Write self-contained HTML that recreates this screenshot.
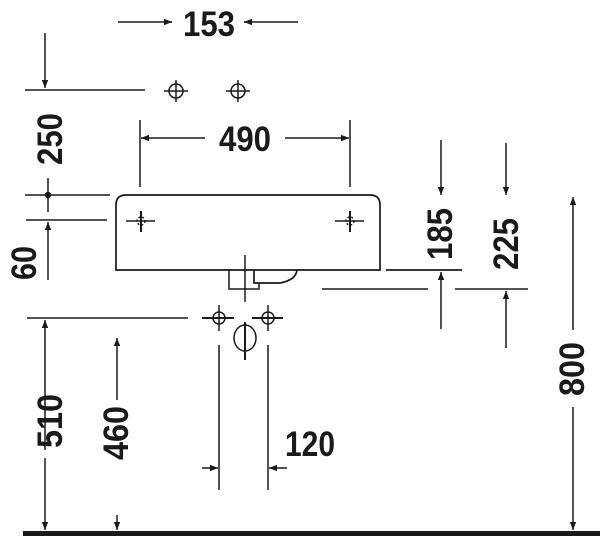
<!DOCTYPE html>
<html><head><style>body{margin:0;background:#fff}svg{display:block}text{font-family:"Liberation Sans",sans-serif;font-weight:bold;font-size:35px;fill:#1a1a1a}</style></head>
<body>
<svg width="600" height="539" viewBox="0 0 600 539" xmlns="http://www.w3.org/2000/svg" stroke="#1a1a1a" fill="none" stroke-width="1.5">
<defs>
<marker id="a" viewBox="0 0 10 10" refX="10" refY="5" markerWidth="14" markerHeight="8" orient="auto" markerUnits="userSpaceOnUse"><path d="M0,1 L10,5 L0,9 Z" fill="#1a1a1a" stroke="none"/></marker>
</defs>
<!-- 153 -->
<line x1="118" y1="22" x2="172" y2="22" marker-end="url(#a)"/>
<line x1="298" y1="22" x2="244" y2="22" marker-end="url(#a)"/>
<text x="183" y="36" textLength="52" lengthAdjust="spacingAndGlyphs" stroke="none">153</text>
<!-- 250 -->
<line x1="45" y1="33" x2="45" y2="88" marker-end="url(#a)"/>
<line x1="25" y1="90" x2="145" y2="90"/>
<text transform="translate(62,165) rotate(-90)" textLength="52" lengthAdjust="spacingAndGlyphs" stroke="none">250</text>
<circle cx="176" cy="91" r="7"/><line x1="164" y1="91" x2="188" y2="91"/><line x1="176" y1="80" x2="176" y2="102"/>
<circle cx="238" cy="91" r="7"/><line x1="226" y1="91" x2="250" y2="91"/><line x1="238" y1="80" x2="238" y2="102"/>
<!-- 490 -->
<line x1="140" y1="120" x2="140" y2="187"/><line x1="350" y1="120" x2="350" y2="187"/>
<line x1="205" y1="138" x2="141" y2="138" marker-end="url(#a)"/>
<line x1="285" y1="138" x2="349" y2="138" marker-end="url(#a)"/>
<text x="219" y="151" textLength="52" lengthAdjust="spacingAndGlyphs" stroke="none">490</text>
<!-- 60 -->
<line x1="25" y1="195" x2="110" y2="195"/><circle cx="48" cy="195" r="2.5" fill="#1a1a1a"/>
<line x1="48" y1="178" x2="48" y2="212"/>
<line x1="26" y1="220" x2="107" y2="220"/>
<line x1="48" y1="280" x2="48" y2="222" marker-end="url(#a)"/>
<text transform="translate(36,280) rotate(-90)" textLength="34" lengthAdjust="spacingAndGlyphs" stroke="none">60</text>
<!-- basin -->
<path d="M116,270 L116,205 Q116,195 126,195 L370,195 Q380,195 380,205 L380,270 Z" stroke-width="1.7"/>
<line x1="126" y1="221" x2="155" y2="221"/><line x1="141" y1="211" x2="141" y2="232" stroke-width="2"/><circle cx="141" cy="221" r="4" stroke-dasharray="2,2"/>
<line x1="335" y1="221" x2="364" y2="221"/><line x1="350" y1="211" x2="350" y2="232" stroke-width="2"/><circle cx="350" cy="221" r="4" stroke-dasharray="2,2"/>
<path d="M229,270 L229,289 L259,289 L259,283"/>
<path d="M254,270 L254,283 L280,283 Q296,280 297,270" stroke-width="1.7"/>
<line x1="245" y1="255" x2="245" y2="302"/>
<!-- valves -->
<line x1="27" y1="318" x2="188" y2="318"/>
<line x1="202" y1="318" x2="234" y2="318" stroke-width="2"/><circle cx="219" cy="318" r="6"/><line x1="219" y1="305" x2="219" y2="331"/>
<line x1="252" y1="318" x2="283" y2="318" stroke-width="2"/><circle cx="268" cy="318" r="6"/><line x1="268" y1="305" x2="268" y2="331"/>
<ellipse cx="245" cy="338" rx="11" ry="13"/><line x1="245" y1="322" x2="245" y2="360" stroke-width="2"/>
<line x1="219" y1="345" x2="219" y2="490"/><line x1="268" y1="345" x2="268" y2="490"/>
<line x1="202" y1="468" x2="218" y2="468" marker-end="url(#a)"/>
<line x1="287" y1="468" x2="269" y2="468" marker-end="url(#a)"/>
<text x="285" y="456" textLength="50" lengthAdjust="spacingAndGlyphs" stroke="none">120</text>
<!-- 510 / 460 -->
<line x1="45" y1="450" x2="45" y2="320" marker-end="url(#a)"/>
<line x1="45" y1="458" x2="45" y2="530" marker-end="url(#a)"/>
<text transform="translate(62,448) rotate(-90)" textLength="54" lengthAdjust="spacingAndGlyphs" stroke="none">510</text>
<line x1="117" y1="400" x2="117" y2="338" marker-end="url(#a)"/>
<line x1="117" y1="515" x2="117" y2="530" marker-end="url(#a)"/>
<text transform="translate(128,460) rotate(-90)" textLength="54" lengthAdjust="spacingAndGlyphs" stroke="none">460</text>
<!-- 185 -->
<line x1="386" y1="270" x2="462" y2="270" stroke-width="1.8"/>
<line x1="441" y1="140" x2="441" y2="195" marker-end="url(#a)"/>
<line x1="441" y1="329" x2="441" y2="272" marker-end="url(#a)"/>
<text transform="translate(452,260) rotate(-90)" textLength="52" lengthAdjust="spacingAndGlyphs" stroke="none">185</text>
<!-- 225 -->
<line x1="322" y1="289" x2="428" y2="289"/><line x1="455" y1="289" x2="528" y2="289"/>
<line x1="506" y1="143" x2="506" y2="195" marker-end="url(#a)"/>
<line x1="506" y1="348" x2="506" y2="291" marker-end="url(#a)"/>
<text transform="translate(518,270) rotate(-90)" textLength="52" lengthAdjust="spacingAndGlyphs" stroke="none">225</text>
<!-- 800 -->
<line x1="573" y1="330" x2="573" y2="197" marker-end="url(#a)"/>
<line x1="573" y1="407" x2="573" y2="530" marker-end="url(#a)"/>
<text transform="translate(584,396) rotate(-90)" textLength="54" lengthAdjust="spacingAndGlyphs" stroke="none">800</text>
<!-- ground -->
<rect x="23" y="531" width="577" height="5" fill="#1a1a1a" stroke="none"/>
</svg>
</body></html>
